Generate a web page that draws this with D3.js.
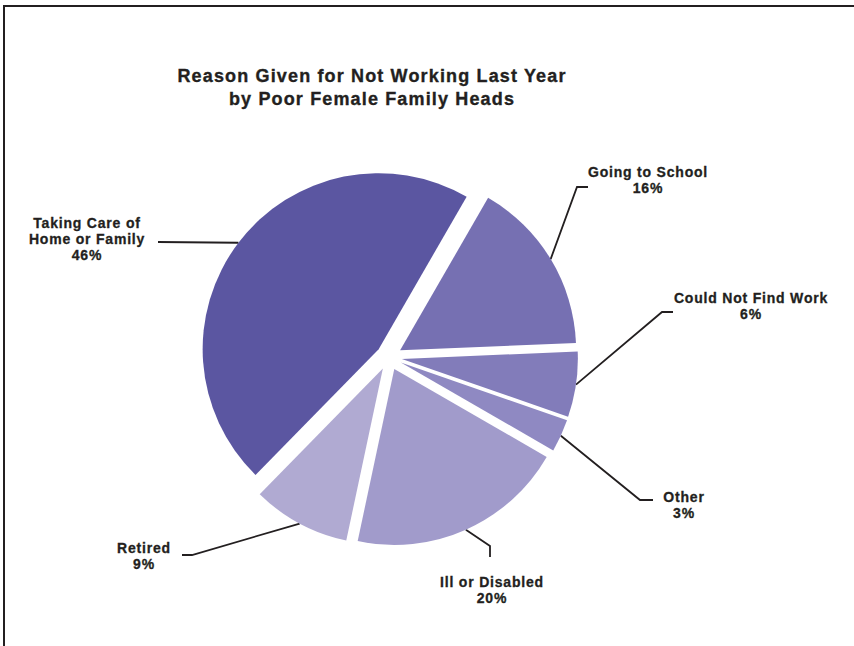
<!DOCTYPE html>
<html>
<head>
<meta charset="utf-8">
<script src="https://cdn.jsdelivr.net/npm/d3@7"></script>
<style>
  body { margin: 0; background: #fff; }
  svg { display: block; }
  text { font-family: "Liberation Sans", Arial, Helvetica, sans-serif; font-weight: bold; fill: #231f20; }
</style>
</head>
<body>
<svg id="chart"></svg>
<script>
// data
const titleLines = ["Reason Given for Not Working Last Year", "by Poor Female Family Heads"];
const categories = ["Going to School", "Could Not Find Work", "Other", "Ill or Disabled", "Retired", "Taking Care of Home or Family"];
const percents = [16, 6, 3, 20, 9, 46];
const labelLines = [["Going to School"], ["Could Not Find Work"], ["Other"], ["Ill or Disabled"], ["Retired"], ["Taking Care of", "Home or Family"]];

// style / layout
const colors = ["#7670b2", "#827cba", "#8f89c2", "#a19bcb", "#b0aad2", "#5b56a1"];
const width = 854, height = 646;
const cx = 389, cy = 357, radius = 176, explode = 13;
const labelLayout = [
    { tx: 648, ty: 177, elbow: [[588, 187], [577, 187]] },
    { tx: 751, ty: 303, elbow: [[673, 312], [662, 312]] },
    { tx: 684, ty: 502, elbow: [[653, 500], [640, 500]] },
    { tx: 492, ty: 587, elbow: [[490, 557], [490, 546]] },
    { tx: 144, ty: 553, elbow: [[182, 555], [192, 555]] },
    { tx: 87, ty: 228, elbow: [[158, 242]] }
];
const lineGap = 16;

const svg = d3.select("#chart")
    .attr("width", width)
    .attr("height", height);

// frame (top + left)
svg.append("path")
    .attr("d", `M4,${height} L4,6 L${width},6`)
    .attr("fill", "none")
    .attr("stroke", "#231f20")
    .attr("stroke-width", 2);

// title
svg.append("text")
    .attr("text-anchor", "middle")
    .style("font-size", "18px")
    .style("letter-spacing", "1.15px")
    .style("stroke", "#231f20")
    .style("stroke-width", 0.35)
    .selectAll("tspan")
    .data(titleLines)
    .enter().append("tspan")
    .attr("x", 372)
    .attr("y", (d, i) => 82 + i * 23)
    .text(d => d);

const pie = d3.pie()
    .sort(null)
    .startAngle(30 * Math.PI / 180)
    .endAngle(30 * Math.PI / 180 + 2 * Math.PI)
    .value(d => d);

const arcs = pie(percents);

const arc = d3.arc().innerRadius(0).outerRadius(radius);
const edgeArc = d3.arc().innerRadius(radius).outerRadius(radius);

// offset of each slice along its bisector
function shift(d) {
    const mid = (d.startAngle + d.endAngle) / 2;
    return [Math.sin(mid) * explode, -Math.cos(mid) * explode];
}

const g = svg.append("g").attr("transform", `translate(${cx},${cy})`);

// leader lines
g.selectAll(".leader")
    .data(arcs)
    .enter().append("polyline")
    .attr("class", "leader")
    .attr("fill", "none")
    .attr("stroke", "#231f20")
    .attr("stroke-width", 1.8)
    .attr("points", (d, i) => {
        const [sx, sy] = shift(d);
        const [ax, ay] = edgeArc.centroid(d);
        const pts = labelLayout[i].elbow.map(p => [p[0] - cx, p[1] - cy]);
        pts.push([ax + sx, ay + sy]);
        return pts.map(p => p.join(",")).join(" ");
    });

// slices
g.selectAll(".slice")
    .data(arcs)
    .enter().append("path")
    .attr("class", "slice")
    .attr("transform", d => `translate(${shift(d)})`)
    .attr("fill", (d, i) => colors[i])
    .attr("d", arc);

// labels
const labels = svg.selectAll(".label")
    .data(arcs)
    .enter().append("text")
    .attr("class", "label")
    .attr("text-anchor", "middle")
    .style("font-size", "14px")
    .style("letter-spacing", "0.8px")
    .style("stroke", "#231f20")
    .style("stroke-width", 0.3);

labels.each(function (d, i) {
    const t = d3.select(this);
    const lay = labelLayout[i];
    const lines = labelLines[i].concat([`${percents[i]}%`]);
    lines.forEach((ln, j) => {
        t.append("tspan")
            .attr("x", lay.tx)
            .attr("y", lay.ty + j * lineGap)
            .text(ln);
    });
});
</script>
</body>
</html>
